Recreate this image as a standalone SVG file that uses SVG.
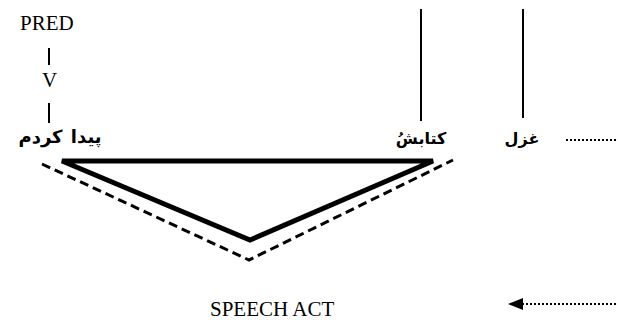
<svg xmlns="http://www.w3.org/2000/svg" width="618" height="320" viewBox="0 0 618 320">
<style>
.lat{font-family:"Liberation Serif","Times New Roman",serif;font-size:21px;fill:#000}
.fa{font-family:"DejaVu Sans",sans-serif;font-size:15px;font-weight:bold;fill:#000}
.vl{stroke:#000;stroke-width:2;fill:none}
.dot{stroke:#000;stroke-width:2;stroke-dasharray:2,2;fill:none}
</style>
<defs>
<marker id="ah" markerWidth="15" markerHeight="12" refX="15" refY="6" orient="auto" markerUnits="userSpaceOnUse">
<path d="M0,0 L15,6 L0,12 Z" fill="#000"/>
</marker>
</defs>
<g id="pred"><text class="lat" x="20" y="30">PRED</text></g>
<g id="v"><text class="lat" x="42" y="87">V</text></g>
<g id="w1"><text class="fa" x="60" y="143" text-anchor="middle" direction="rtl" style="font-size:18px;word-spacing:2px">پیدا کردم</text></g>
<g id="w2"><text class="fa" x="421" y="144" text-anchor="middle" direction="rtl" style="font-size:16px">کتابشُ</text></g>
<g id="w3"><text class="fa" x="522" y="144" text-anchor="middle" direction="rtl" style="font-size:16px">غزل</text></g>
<g id="speech"><text class="lat" x="210" y="316">SPEECH ACT</text></g>
<g id="triangle">
<polygon points="62,161 433,161 250,240" fill="none" stroke="#000" stroke-width="5" stroke-linejoin="miter"/>
<polyline points="42,164 249,260 453,160" fill="none" stroke="#000" stroke-width="3" stroke-dasharray="9,5"/>
</g>
<g id="connectors">
<line class="vl" x1="49" y1="48" x2="49" y2="65"/>
<line class="vl" x1="49" y1="103" x2="49" y2="123"/>
<line class="vl" x1="421" y1="9" x2="421" y2="121"/>
<line class="vl" x1="523" y1="9" x2="523" y2="118"/>
<line class="dot" x1="566" y1="140" x2="616" y2="140"/>
<line class="dot" x1="616" y1="304" x2="508" y2="304" marker-end="url(#ah)"/>
</g>
</svg>
